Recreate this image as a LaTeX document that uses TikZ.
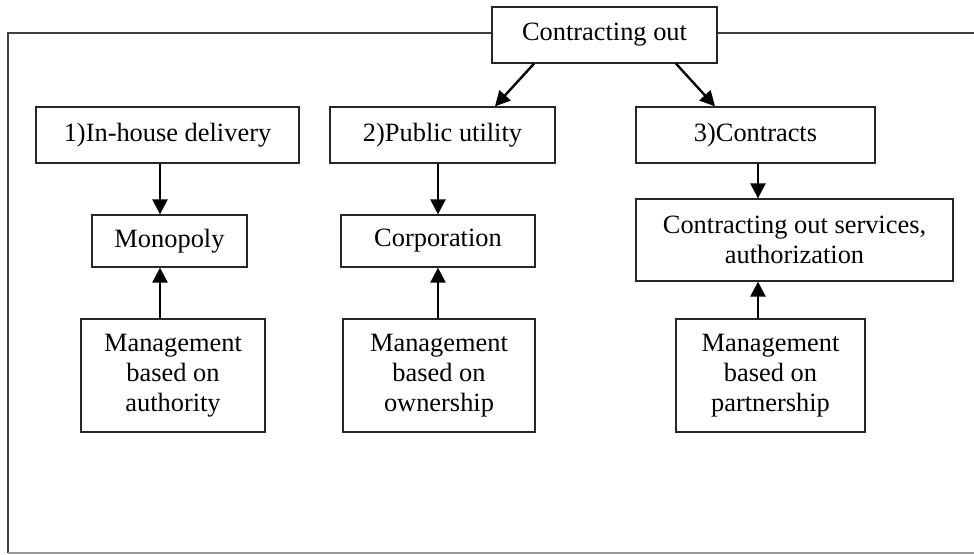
\documentclass[tikz,border=0pt]{standalone}
\usepackage{fontspec}
\setmainfont{Liberation Serif}
\usetikzlibrary{arrows.meta}
\begin{document}
\begin{tikzpicture}[x=1pt,y=-1pt,
  box/.style={draw=black!85, line width=1.3pt, inner sep=0pt, align=center,
    font=\fontsize{26.4}{30}\selectfont},
  arr/.style={line width=2.4pt, -{Triangle[width=15pt,length=15pt]}}]
\useasboundingbox (0,0) rectangle (974,554);
% outer frame
\coordinate (fl) at (8,33);
\coordinate (fr) at (974,33);
\coordinate (bl) at (8,553);
\coordinate (br) at (974,553);
\draw[line width=1.3pt, black!75] (fr) -- (fl) -- (bl);
\draw[line width=1.3pt, black!40] (bl) -- (br);
% nodes
\node[box, fill=white, minimum width=225pt, minimum height=56pt] (top) at (604.5,35) {Contracting out};
\node[box, minimum width=263pt, minimum height=56pt] (b1) at (167.5,135) {1)In-house delivery};
\node[box, minimum width=225pt, minimum height=56pt] (b2) at (442.5,135) {2)Public utility};
\node[box, minimum width=239pt, minimum height=56pt] (b3) at (755.5,135) {3)Contracts};
\node[box, minimum width=155pt, minimum height=52pt] (mono) at (169.5,241) {Monopoly};
\node[box, minimum width=194pt, minimum height=52pt] (corp) at (438,241) {Corporation};
\node[box, minimum width=317pt, minimum height=82pt] (serv) at (794.5,240) {Contracting out services,\\authorization};
\node[box, minimum width=184pt, minimum height=113pt] (ma) at (173,375.5) {Management\\based on\\authority};
\node[box, minimum width=192pt, minimum height=113pt] (mo) at (439,375.5) {Management\\based on\\ownership};
\node[box, minimum width=189pt, minimum height=113pt] (mp) at (770.5,375.5) {Management\\based on\\partnership};
% connectors
\draw[arr] (top.south -| 534,0) -- (b2.north -| 495,0);
\draw[arr] (top.south -| 676,0) -- (b3.north -| 715,0);
\draw[arr] (b1.south -| 160,0) -- (mono.north -| 160,0);
\draw[arr] (b2.south -| 438,0) -- (corp.north -| 438,0);
\draw[arr] (b3.south -| 758,0) -- (serv.north -| 758,0);
\draw[arr] (ma.north -| 160,0) -- (mono.south -| 160,0);
\draw[arr] (mo.north -| 438,0) -- (corp.south -| 438,0);
\draw[arr] (mp.north -| 758,0) -- (serv.south -| 758,0);
\end{tikzpicture}
\end{document}
